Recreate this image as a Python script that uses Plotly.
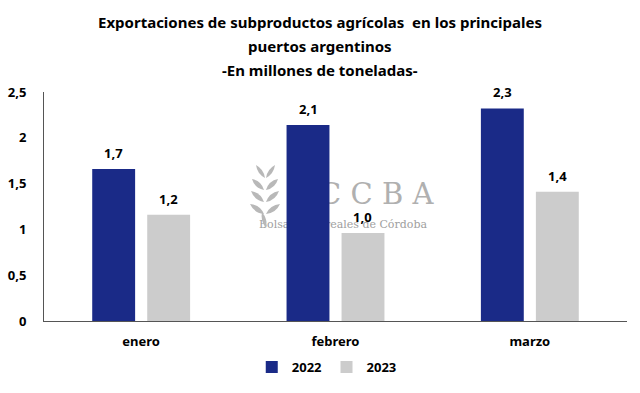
import plotly.graph_objects as go

categories = ["enero", "febrero", "marzo"]
values_2022 = [1.66, 2.14, 2.32]
values_2023 = [1.16, 0.96, 1.41]
series_names = ["2022", "2023"]
tick_vals = [0, 0.5, 1, 1.5, 2, 2.5]
tick_text = ["<b>0</b>", "<b>0,5</b>", "<b>1</b>", "<b>1,5</b>", "<b>2</b>", "<b>2,5</b>"]
title_lines = ["Exportaciones de subproductos agrícolas  en los principales",
               "puertos argentinos",
               "-En millones de toneladas-"]

FONT = "Noto Sans, Open Sans, sans-serif"
L, R, T, B = 44, 13, 92, 72
W, H = 640, 393
PW, PH = W - L - R, H - T - B
BARGAP, GROUPGAP = 0.434, 0.22


def px(x):
    return (x - L) / PW


def py(y):
    return (H - B - y) / PH


fig = go.Figure()
fig.add_trace(go.Bar(x=categories, y=values_2022, name="<b>" + series_names[0] + "</b>",
                     marker=dict(color="#1a2a87", line=dict(width=0))))
fig.add_trace(go.Bar(x=categories, y=values_2023, name="<b>" + series_names[1] + "</b>",
                     marker=dict(color="#cccccc", line=dict(width=0))))

annotations = []
# value labels above bars
slot = PW / len(categories) * (1 - BARGAP) / 2
for vals, sign in ((values_2022, -1), (values_2023, 1)):
    for c, v in zip(categories, vals):
        annotations.append(dict(x=c, y=v, xref="x", yref="y", text="<b>" + f"{v:.1f}".replace(".", ",") + "</b>",
                                showarrow=False, xshift=sign * slot / 2, yshift=16,
                                xanchor="center", yanchor="middle",
                                font=dict(family=FONT, size=13, color="black")))

for line, ypix in zip(title_lines, [22, 46, 70]):
    annotations.append(dict(text="<b>" + line + "</b>", xref="paper", yref="paper",
                            x=px(320), y=py(ypix), xanchor="center", yanchor="middle",
                            showarrow=False, font=dict(family=FONT, size=15, color="black")))

# watermark (below bars)
shapes = []
shapes.append(dict(type="rect", xref="paper", yref="paper", x0=px(290), x1=px(432), y0=py(208), y1=py(176),
                   line=dict(width=0), fillcolor="rgba(0,0,0,0)", layer="below",
                   label=dict(text="B C C B A", font=dict(family="DejaVu Serif, serif", size=29, color="#b0b0b0"),
                              textposition="middle center")))
shapes.append(dict(type="rect", xref="paper", yref="paper", x0=px(252), x1=px(434), y0=py(230), y1=py(216),
                   line=dict(width=0), fillcolor="rgba(0,0,0,0)", layer="below",
                   label=dict(text="Bolsa de Cereales de Córdoba", font=dict(family="DejaVu Serif, serif", size=11, color="#a0a0a0"),
                              textposition="middle center")))


def leaf(bx, by, tx, ty, w):
    mx, my = (bx + tx) / 2, (by + ty) / 2
    dx, dy = tx - bx, ty - by
    n = (dx * dx + dy * dy) ** 0.5
    ox, oy = -dy / n * w, dx / n * w
    pts = [(bx, by), (mx + ox, my + oy), (tx, ty), (mx - ox, my - oy)]
    p = [(px(a), py(b)) for a, b in pts]
    return (f"M {p[0][0]},{p[0][1]} Q {p[1][0]},{p[1][1]} {p[2][0]},{p[2][1]} "
            f"Q {p[3][0]},{p[3][1]} {p[0][0]},{p[0][1]} Z")


leaf_specs = [(266, 228, 262, 212, 4), (264, 214, 250, 204, 5), (266, 214, 280, 204, 5),
              (264, 202, 251, 191, 5), (266, 202, 279, 191, 5), (264, 190, 252, 179, 5),
              (266, 190, 278, 179, 5), (265, 178, 256, 165, 4), (266, 178, 275, 165, 4)]
for s in leaf_specs:
    shapes.append(dict(type="path", xref="paper", yref="paper", path=leaf(*s),
                       fillcolor="#b8b8b8", line=dict(width=0), layer="below"))

fig.update_layout(
    width=W, height=H,
    margin=dict(l=L, r=R, t=T, b=B, autoexpand=False),
    paper_bgcolor="white", plot_bgcolor="white",
    separators=",.",
    barmode="group", bargap=BARGAP, bargroupgap=GROUPGAP,
    font=dict(family=FONT, color="black"),
    annotations=annotations,
    shapes=shapes,
    showlegend=True,
    legend=dict(orientation="h", x=0.485, xanchor="center", y=py(367), yanchor="middle",
                font=dict(family=FONT, size=13, color="black"), itemwidth=30,
                traceorder="normal"),
    xaxis=dict(showline=True, linecolor="#555555", linewidth=1, ticks="", automargin=False,
               tickvals=categories, ticktext=["<b>" + c + "</b>" for c in categories],
               tickfont=dict(family=FONT, size=13, color="black"), ticklabelstandoff=8),
    yaxis=dict(range=[0, 2.5], tickvals=tick_vals, ticktext=tick_text, showgrid=False, zeroline=False,
               showline=True, linecolor="#555555", linewidth=1, ticks="", automargin=False,
               tickfont=dict(family=FONT, size=13, color="black"), ticklabelstandoff=14),
)

fig.write_html("out.html", config={"displayModeBar": False},
               post_script="document.body.style.margin='0';")
